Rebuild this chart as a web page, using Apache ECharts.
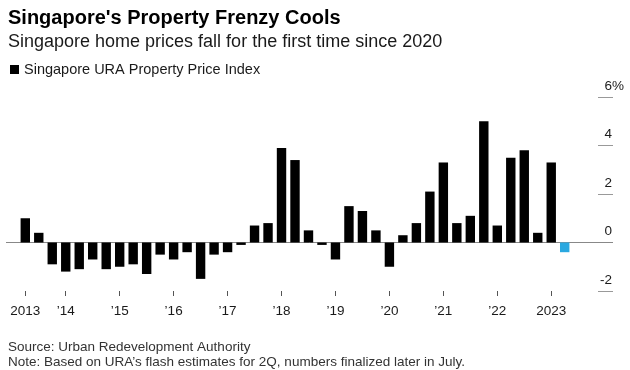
<!DOCTYPE html>
<html>
<head>
<meta charset="utf-8">
<script src="https://cdn.jsdelivr.net/npm/echarts@6/dist/echarts.min.js"></script>
<style>
html,body{margin:0;padding:0;background:#fff;}
#chart{width:630px;height:370px;}
</style>
</head>
<body>
<div id="chart"></div>
<script>
var quarters = [
  '2013 Q2','2013 Q3','2013 Q4',
  '2014 Q1','2014 Q2','2014 Q3','2014 Q4',
  '2015 Q1','2015 Q2','2015 Q3','2015 Q4',
  '2016 Q1','2016 Q2','2016 Q3','2016 Q4',
  '2017 Q1','2017 Q2','2017 Q3','2017 Q4',
  '2018 Q1','2018 Q2','2018 Q3','2018 Q4',
  '2019 Q1','2019 Q2','2019 Q3','2019 Q4',
  '2020 Q1','2020 Q2','2020 Q3','2020 Q4',
  '2021 Q1','2021 Q2','2021 Q3','2021 Q4',
  '2022 Q1','2022 Q2','2022 Q3','2022 Q4',
  '2023 Q1','2023 Q2'
];
var priceChange = [
  1.0, 0.4, -0.9,
  -1.2, -1.1, -0.7, -1.1,
  -1.0, -0.9, -1.3, -0.5,
  -0.7, -0.4, -1.5, -0.5,
  -0.4, -0.1, 0.7, 0.8,
  3.9, 3.4, 0.5, -0.1,
  -0.7, 1.5, 1.3, 0.5,
  -1.0, 0.3, 0.8, 2.1,
  3.3, 0.8, 1.1, 5.0,
  0.7, 3.5, 3.8, 0.4,
  3.3, -0.4
];
var flashEstimate = ['2023 Q2'];
var tickQuarters = ['2013 Q2','2014 Q1','2015 Q1','2016 Q1','2017 Q1','2018 Q1','2019 Q1','2020 Q1','2021 Q1','2022 Q1','2023 Q1'];
var tickLabels = ['2013','\u201914','\u201915','\u201916','\u201917','\u201918','\u201919','\u201920','\u201921','\u201922','2023'];
var yTicks = [-2, 0, 2, 4, 6];

var FONT = "'Liberation Sans', Arial, Helvetica, sans-serif";
var tickIdx = tickQuarters.map(function (q) { return quarters.indexOf(q); });

var barData = priceChange.map(function (v, i) {
  var d = { value: [i, v] };
  if (flashEstimate.indexOf(quarters[i]) >= 0) d.itemStyle = { color: '#2aa8e0' };
  return d;
});

var chart = echarts.init(document.getElementById('chart'), null, { renderer: 'canvas' });
chart.setOption({
  animation: false,
  backgroundColor: '#fff',
  textStyle: { fontFamily: FONT },
  title: [
    {
      text: "Singapore's Property Frenzy Cools",
      left: 3, top: 3,
      textStyle: { fontFamily: FONT, fontSize: 20, fontWeight: 'bold', color: '#000' },
      subtext: 'Singapore home prices fall for the first time since 2020',
      subtextStyle: { fontFamily: FONT, fontSize: 18, color: '#1a1a1a' },
      itemGap: 5
    },
    {
      text: 'Source: Urban Redevelopment Authority\nNote: Based on URA\u2019s flash estimates for 2Q, numbers finalized later in July.',
      left: 3, top: 335,
      textStyle: { fontFamily: FONT, fontSize: 13.5, fontWeight: 'normal', color: '#333', lineHeight: 15 }
    }
  ],
  legend: {
    left: 5, top: 57,
    itemWidth: 9, itemHeight: 9, itemGap: 10,
    icon: 'rect',
    textStyle: { fontFamily: FONT, fontSize: 14.5, color: '#1a1a1a' },
    data: ['Singapore URA Property Price Index']
  },
  grid: { left: 6, right: 17, top: 97, bottom: 79, containLabel: false },
  xAxis: {
    type: 'value',
    min: -1.43, max: 43.58,
    position: 'bottom',
    axisLine: { show: false, onZero: false },
    splitLine: { show: false },
    axisTick: { show: true, customValues: tickIdx, length: 5, lineStyle: { color: '#555', width: 1 } },
    axisLabel: {
      show: true, customValues: tickIdx, margin: 13,
      fontFamily: FONT, fontSize: 13.5, color: '#1a1a1a',
      formatter: function (v) {
        var k = tickIdx.indexOf(Math.round(v));
        return k >= 0 ? tickLabels[k] : '';
      }
    }
  },
  yAxis: {
    type: 'value',
    position: 'right',
    min: yTicks[0], max: yTicks[yTicks.length - 1], interval: 2,
    axisLine: { show: false, onZero: false },
    splitLine: { show: false },
    axisTick: { show: true, inside: true, length: 15, lineStyle: { color: '#999', width: 1 } },
    axisLabel: {
      show: true, inside: false, margin: 11, align: 'right', verticalAlign: 'bottom',
      padding: [0, 0, 4, 0],
      formatter: function (v) {
        return v === yTicks[yTicks.length - 1] ? '{n|' + v + '}{p|%}' : '{n|' + v + '}{h|%}';
      },
      rich: {
        n: { fontFamily: FONT, fontSize: 13.5, color: '#1a1a1a' },
        p: { fontFamily: FONT, fontSize: 13.5, color: '#1a1a1a' },
        h: { fontFamily: FONT, fontSize: 13.5, color: 'rgba(0,0,0,0)' }
      }
    }
  },
  series: [{
    name: 'Singapore URA Property Price Index',
    type: 'bar',
    color: '#000',
    barWidth: 9.4,
    data: barData,
    markLine: {
      silent: true,
      symbol: ['none', 'none'],
      label: { show: false },
      lineStyle: { color: '#888', width: 1, type: 'solid' },
      data: [{ yAxis: 0 }],
      z: 1
    }
  }]
});
</script>
</body>
</html>
